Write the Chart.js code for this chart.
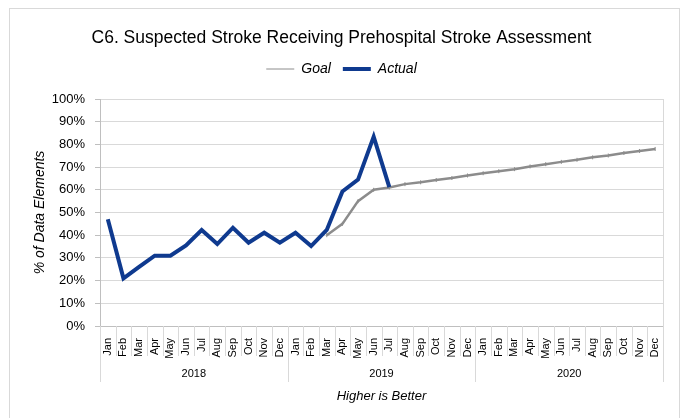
<!DOCTYPE html>
<html>
<head>
<meta charset="utf-8">
<script src="https://cdn.jsdelivr.net/npm/chart.js@4.4.1/dist/chart.umd.min.js"></script>
<style>
  body { margin: 0; background: #fff; }
  #wrap { width: 686px; height: 418px; position: relative; }
</style>
</head>
<body>
<div id="wrap"><canvas id="strokeChart" width="686" height="418"></canvas></div>
<script>
// chart data
const months = ['Jan','Feb','Mar','Apr','May','Jun','Jul','Aug','Sep','Oct','Nov','Dec'];
const years = ['2018', '2019', '2020'];
const monthLabels = years.flatMap(() => months);

const goalValues = [
    null, null, null, null, null, null, null, null, null, null, null, null,
    null, null, 40, 45, 55, 60, 61, 62.5, 63.3, 64.3, 65.2, 66.3,
    67.3, 68.2, 69.1, 70.3, 71.3, 72.3, 73.2, 74.3, 75.1, 76.2, 77.1, 78
];
const actualValues = [
    47, 21, 26, 31, 31, 35.5, 42.3, 36.1, 43.3, 36.7, 41.1, 36.7,
    41.1, 35.2, 42.3, 59.3, 64.5, 83.4, 61.2
];
const yTicks = [0, 10, 20, 30, 40, 50, 60, 70, 80, 90, 100];

const gridGray = '#d9d9d9';
const axisGray = '#bfbfbf';
const font = 'Liberation Sans, Arial, sans-serif';

// empty box between legend and plot so the plot starts lower
const legendGap = {
    id: 'legendGap',
    beforeInit(chart) {
        const box = {
            position: 'top', weight: 0, fullSize: true, options: {},
            left: 0, top: 0, right: 0, bottom: 0, width: 0, height: 0,
            isHorizontal() { return true; },
            update(maxWidth) { this.width = maxWidth; this.height = 13; return this.height; },
            draw() {}
        };
        Chart.layouts.addBox(chart, box);
    }
};

// draws the outer frame, the plot box, month/year dividers and year labels
const excelFrame = {
    id: 'excelFrame',
    beforeDraw(chart) {
        const ctx = chart.ctx;
        ctx.save();
        ctx.fillStyle = '#fff';
        ctx.fillRect(0, 0, chart.width, chart.height);
        ctx.strokeStyle = gridGray;
        ctx.lineWidth = 1;
        ctx.strokeRect(9.5, 8.5, 670, 420);
        ctx.restore();
    },
    afterDraw(chart) {
        const ctx = chart.ctx;
        const area = chart.chartArea;
        const x = chart.scales.x;
        const n = monthLabels.length;
        const w = (area.right - area.left) / n;
        ctx.save();
        ctx.strokeStyle = gridGray;
        ctx.lineWidth = 1;
        ctx.beginPath();
        ctx.moveTo(Math.round(area.right) + 0.5, area.top);
        ctx.lineTo(Math.round(area.right) + 0.5, area.bottom);
        for (let i = 0; i <= n; i++) {
            const bx = Math.round(area.left + i * w) + 0.5;
            const end = (i % 12 === 0) ? area.bottom + 56 : area.bottom + 30;
            ctx.moveTo(bx, area.bottom);
            ctx.lineTo(bx, end);
        }
        ctx.stroke();
        ctx.fillStyle = '#000';
        ctx.font = '11px ' + font;
        ctx.textAlign = 'center';
        ctx.textBaseline = 'middle';
        years.forEach((yr, k) => {
            const cx = (x.getPixelForValue(k * 12) + x.getPixelForValue(k * 12 + 11)) / 2;
            ctx.fillText(yr, cx, area.bottom + 48);
        });
        ctx.restore();
    }
};

function loadChart() {
    const ctx = document.getElementById('strokeChart').getContext('2d');
    new Chart(ctx, {
        type: 'line',
        data: {
            labels: monthLabels,
            datasets: [{
                label: 'Goal',
                data: goalValues,
                borderColor: '#8c8c8c',
                backgroundColor: '#8c8c8c',
                borderWidth: 2.5,
                pointStyle: 'line',
                pointRotation: 90,
                pointRadius: 2,
                pointBorderWidth: 1,
                order: 1
            }, {
                label: 'Actual',
                data: actualValues,
                borderColor: '#0f3a8f',
                backgroundColor: '#0f3a8f',
                borderWidth: 4,
                pointRadius: 0,
                order: 0
            }]
        },
        options: {
            responsive: false,
            animation: false,
            spanGaps: false,
            layout: { padding: { left: 20, right: 23, top: 0, bottom: 0 } },
            plugins: {
                title: {
                    display: true,
                    text: 'C6. Suspected Stroke Receiving Prehospital Stroke Assessment',
                    color: '#000',
                    font: { family: font, size: 17.5, weight: 'normal' },
                    padding: { top: 28, bottom: 1 }
                },
                legend: {
                    display: true,
                    labels: {
                        usePointStyle: true,
                        pointStyle: 'line',
                        pointStyleWidth: 28,
                        color: '#000',
                        font: { family: font, size: 14, style: 'italic' },
                        padding: 12,
                        sort: (a, b) => a.datasetIndex - b.datasetIndex,
                        generateLabels(chart) {
                            const items = Chart.defaults.plugins.legend.labels.generateLabels(chart);
                            items.forEach(it => { it.rotation = 0; });
                            return items;
                        }
                    }
                },
                tooltip: { enabled: false }
            },
            scales: {
                x: {
                    offset: true,
                    grid: { display: false },
                    border: { display: true, color: axisGray },
                    ticks: {
                        color: '#000',
                        font: { family: font, size: 11 },
                        minRotation: 90,
                        maxRotation: 90,
                        autoSkip: false,
                        padding: 4
                    },
                    title: {
                        display: true,
                        text: 'Higher is Better',
                        color: '#000',
                        font: { family: font, size: 13, style: 'italic' },
                        padding: { top: 0, bottom: 14 }
                    },
                    afterFit(scale) { scale.height = 92; }
                },
                y: {
                    min: 0,
                    max: 100,
                    afterBuildTicks(scale) { scale.ticks = yTicks.map(v => ({ value: v })); },
                    grid: { color: gridGray, tickLength: 5, tickColor: axisGray },
                    border: { display: true, color: axisGray },
                    ticks: {
                        color: '#000',
                        font: { family: font, size: 13 },
                        padding: 10,
                        callback: v => v + '%'
                    },
                    title: {
                        display: true,
                        text: '% of Data Elements',
                        color: '#000',
                        font: { family: font, size: 14, style: 'italic' },
                        padding: { top: 12, bottom: 0 }
                    },
                    afterFit(scale) { scale.width = 80; }
                }
            }
        },
        plugins: [legendGap, excelFrame]
    });
}

document.addEventListener('DOMContentLoaded', loadChart);
</script>
</body>
</html>
